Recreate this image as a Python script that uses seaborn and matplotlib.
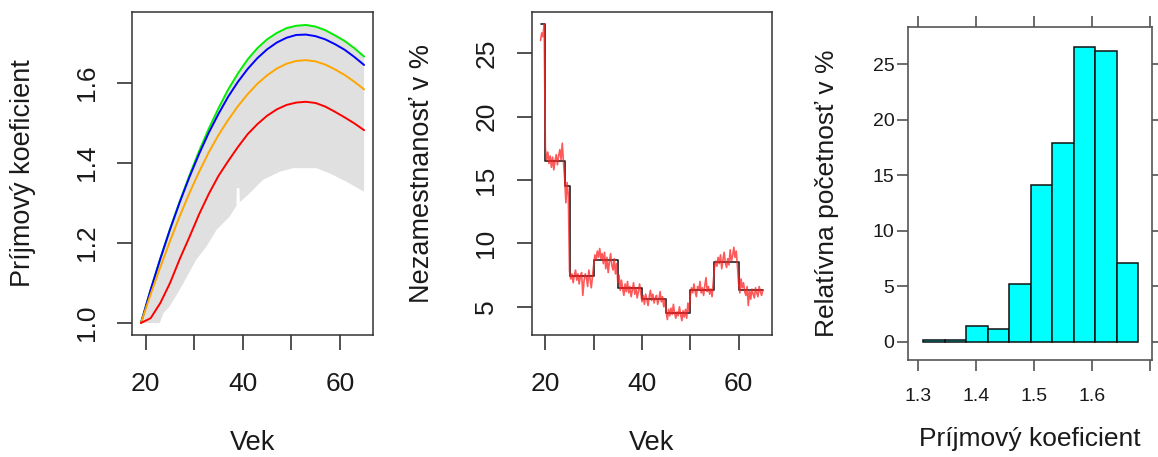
import matplotlib
matplotlib.use("Agg")
import matplotlib.pyplot as plt
import seaborn as sns
import numpy as np

# --- panel 1: income coefficient by age ---
ages = [19, 21, 23, 25, 27, 29, 31, 33, 35, 37, 39, 41, 43, 45, 47, 49, 51, 53,
        55, 57, 59, 61, 63, 65]
coef_green = [1.000, 1.083, 1.161, 1.235, 1.304, 1.369, 1.430, 1.486, 1.537, 1.584,
              1.624, 1.659, 1.687, 1.709, 1.725, 1.737, 1.743, 1.745, 1.741, 1.732,
              1.719, 1.705, 1.687, 1.666]
coef_blue = [1.000, 1.083, 1.161, 1.234, 1.302, 1.365, 1.423, 1.476, 1.523, 1.566,
             1.603, 1.635, 1.662, 1.684, 1.701, 1.713, 1.720, 1.721, 1.717, 1.709,
             1.697, 1.683, 1.665, 1.645]
coef_orange = [1.000, 1.072, 1.140, 1.205, 1.267, 1.325, 1.378, 1.427, 1.470, 1.508,
               1.542, 1.572, 1.598, 1.619, 1.636, 1.648, 1.655, 1.657, 1.654, 1.646,
               1.634, 1.620, 1.603, 1.584]
coef_red = [1.000, 1.012, 1.050, 1.100, 1.160, 1.215, 1.272, 1.323, 1.368, 1.405,
            1.440, 1.472, 1.497, 1.518, 1.534, 1.545, 1.551, 1.553, 1.550, 1.541,
            1.528, 1.514, 1.499, 1.482]
# lower edge of the grey band
band_ages = [19, 22.9, 23.6, 24.9, 27.0, 30.4, 32.5, 34.6, 37.3, 38.7, 38.76, 39.3,
             39.4, 41.4, 44.2, 47.6, 50.4, 55.2, 57.9, 61.4, 65]
band_low = [1.0, 1.0, 1.024, 1.041, 1.083, 1.158, 1.191, 1.233, 1.266, 1.293, 1.337,
            1.337, 1.302, 1.324, 1.358, 1.378, 1.387, 1.387, 1.374, 1.353, 1.328]

# --- panel 2: unemployment by age ---
step_ages = [19, 20, 24, 25, 30, 35, 40, 45, 50, 55, 60, 65]
step_rate = [27.3, 16.5, 14.5, 7.4, 8.7, 6.5, 5.6, 4.5, 6.3, 8.5, 6.3]
sim_rate = [
    26.0, 26.6, 26.3, 27.3, 17.5, 16.6, 17.2, 16.3, 16.9, 16.0, 16.8, 15.8,
    16.5, 17.0, 16.2, 16.9, 17.4, 16.6, 17.9, 16.4, 15.1, 13.2, 14.8, 13.8,
    7.8, 7.2, 7.6, 6.9, 7.5, 7.9, 7.1, 7.6, 6.8, 7.4, 7.7, 5.9,
    7.0, 7.6, 7.3, 6.6, 7.9, 7.2, 6.5, 7.4, 8.3, 9.1, 8.7, 9.4,
    8.9, 9.6, 8.8, 9.2, 8.4, 9.3, 8.0, 8.9, 7.7, 8.5, 9.2, 8.3,
    7.9, 8.8, 7.6, 8.4, 6.9, 7.5, 6.3, 7.1, 6.4, 5.9, 6.8, 6.2,
    7.0, 6.1, 6.6, 5.8, 6.3, 6.9, 6.0, 6.5, 5.7, 6.2, 6.8, 6.1,
    5.4, 5.9, 5.2, 6.0, 5.6, 5.1, 5.8, 6.3, 5.5, 6.0, 5.3, 5.7,
    5.9, 5.2, 5.6, 6.2, 5.4, 5.8, 5.0, 5.6, 4.6, 4.0, 4.8, 4.3,
    4.9, 4.4, 5.2, 4.5, 4.1, 4.6, 4.3, 5.0, 4.4, 3.9, 4.7, 4.2,
    4.8, 4.1, 5.3, 4.6, 5.9, 6.5, 6.1, 6.8, 6.2, 5.8, 6.6, 6.3,
    7.0, 6.1, 6.5, 5.9, 6.7, 7.3, 6.2, 6.6, 6.0, 6.4, 5.8, 6.9,
    8.1, 8.6, 8.2, 8.9, 8.4, 9.1, 8.0, 8.7, 9.3, 8.5, 8.1, 8.8,
    8.3, 9.5, 8.6, 9.0, 9.7, 8.9, 9.4, 8.2, 6.8, 6.1, 7.2, 6.5,
    6.9, 6.2, 5.9, 6.6, 5.1, 6.3, 5.6, 6.4, 6.0, 5.7, 6.5, 6.1,
    5.8, 6.6, 6.2, 5.9, 6.3]
sim_ages = np.arange(len(sim_rate)) * 0.25 + 19

# --- panel 3: histogram of final coefficient ---
bin_edges = [1.3086, 1.3457, 1.3827, 1.4198, 1.4568, 1.4939, 1.5309, 1.5680,
             1.6050, 1.6421, 1.6791]
rel_freq = [0.15, 0.15, 1.44, 1.14, 5.2, 14.1, 17.9, 26.6, 26.2, 7.1]

sns.set_style("white")
plt.rcParams['font.family'] = ['Liberation Sans', 'DejaVu Sans']
plt.rcParams['text.color'] = '#1a1a1a'
plt.rcParams['axes.labelcolor'] = '#1a1a1a'
plt.rcParams['xtick.color'] = '#1a1a1a'
plt.rcParams['ytick.color'] = '#1a1a1a'

fig = plt.figure(figsize=(11.58, 4.57), dpi=100)
ax1 = fig.add_axes([0.1140, 0.2670, 0.2081, 0.7068])
ax2 = fig.add_axes([0.4591, 0.2670, 0.2073, 0.7068])
ax3 = fig.add_axes([0.7844, 0.2123, 0.2102, 0.7293])

# panel 1
ax1.fill(np.concatenate([ages, band_ages[::-1]]),
         np.concatenate([coef_green, band_low[::-1]]),
         color='#e0e0e0', lw=0)
for vals, col in [(coef_green, '#00ee00'), (coef_blue, '#0000ff'),
                  (coef_orange, '#ffa500'), (coef_red, '#ff0000')]:
    sns.lineplot(x=ages, y=vals, color=col, lw=1.4, ax=ax1,
                 estimator=None, sort=False)
ax1.set_xlim(17.16, 66.84)
ax1.set_ylim(0.97, 1.7775)
ax1.set_yticks([1.0, 1.2, 1.4, 1.6])
ax1.set_yticklabels(['1.0', '1.2', '1.4', '1.6'])
ax1.set_ylabel('Príjmový koeficient')

# panel 2
sns.lineplot(x=step_ages, y=step_rate + [step_rate[-1]], drawstyle='steps-post',
             color='#222222', lw=1.2, ax=ax2, estimator=None, sort=False)
sns.lineplot(x=sim_ages, y=sim_rate, color='#ff2020', alpha=0.75, lw=1.2, ax=ax2,
             estimator=None, sort=False)
ax2.set_xlim(17.16, 66.84)
ax2.set_ylim(2.78, 28.25)
ax2.set_yticks([5, 10, 15, 20, 25])
ax2.set_ylabel('Nezamestnanosť v %')

for ax in (ax1, ax2):
    ax.set_xticks([20, 30, 40, 50, 60])
    ax.set_xticklabels(['20', '', '40', '', '60'])
    ax.set_xlabel('Vek')
    ax.tick_params(axis='both', length=11, width=1.1, color='#222222',
                   labelsize=19, direction='out', bottom=True, left=True)
    ax.tick_params(axis='x', pad=15.5)
    ax.tick_params(axis='y', pad=13, labelrotation=90)
    for lab in ax.get_yticklabels():
        lab.set_va('center')
    for s in ax.spines.values():
        s.set_color('#333333')
        s.set_linewidth(1.1)
    ax.xaxis.label.set_size(19.5)
    ax.yaxis.label.set_size(19.5)
    ax.xaxis.set_label_coords(0.5, -0.334)
    ax.xaxis.label.set_va('center')
ax1.yaxis.set_label_coords(-0.454, 0.5)
ax2.yaxis.set_label_coords(-0.458, 0.5)
ax1.yaxis.label.set_va('center')
ax2.yaxis.label.set_va('center')

# panel 3
centers = [(a + b) / 2 for a, b in zip(bin_edges[:-1], bin_edges[1:])]
sns.histplot(x=centers, weights=rel_freq, bins=bin_edges, color='#00ffff',
             edgecolor='#111111', linewidth=1.1, alpha=1, ax=ax3)
ax3.set_xlim(1.2828, 1.7024)
ax3.set_ylim(-1.65, 28.4)
ax3.set_xticks([1.3, 1.4, 1.5, 1.6, 1.7])
ax3.set_xticklabels(['1.3', '1.4', '1.5', '1.6', ''])
ax3.set_yticks([0, 5, 10, 15, 20, 25])
ax3.tick_params(axis='both', length=8, width=1.1, color='#444444',
                labelsize=14, direction='out', top=True, right=True,
                bottom=True, left=True, labeltop=False, labelright=False)
ax3.tick_params(axis='y', pad=2)
ax3.tick_params(axis='x', pad=12)
for s in ax3.spines.values():
    s.set_color('#555555')
    s.set_linewidth(1.2)
ax3.set_xlabel('Príjmový koeficient', fontsize=19)
ax3.set_ylabel('Relatívna početnosť v %', fontsize=19)
ax3.xaxis.set_label_coords(0.5, -0.237)
ax3.xaxis.label.set_va('center')
ax3.yaxis.set_label_coords(-0.335, 0.5)
ax3.yaxis.label.set_va('center')

fig.savefig('out.png', dpi=100)
